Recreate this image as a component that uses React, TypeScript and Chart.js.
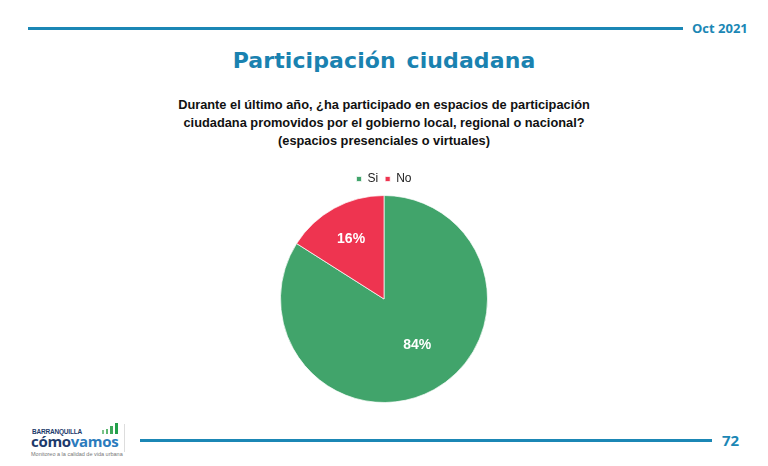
import React, { useEffect, useRef } from "react";
import { Chart, registerables } from "chart.js";

Chart.register(...registerables);

const categories = ["Si", "No"];
const values = [84, 16];
const valueLabels = ["84%", "16%"];
const sliceColors = ["#41a46b", "#ee3450"];
const labelRadius = [0.55, 0.66];

const BLUE = "#1b87b5";

const pctLabels = {
  id: "pctLabels",
  afterDatasetsDraw(chart: any) {
    const ctx = chart.ctx;
    const meta = chart.getDatasetMeta(0);
    ctx.save();
    ctx.fillStyle = "#ffffff";
    ctx.font = "bold 14px 'Liberation Sans', Arial, sans-serif";
    ctx.textAlign = "center";
    ctx.textBaseline = "middle";
    meta.data.forEach((arc: any, i: number) => {
      const { x, y, startAngle, endAngle, outerRadius } = arc.getProps(
        ["x", "y", "startAngle", "endAngle", "outerRadius"],
        true
      );
      const mid = (startAngle + endAngle) / 2 - (i === 0 ? 0.12 : 0);
      const r = outerRadius * labelRadius[i];
      ctx.fillText(valueLabels[i], x + Math.cos(mid) * r, y + Math.sin(mid) * r);
    });
    ctx.restore();
  },
};

export default function App() {
  const ref = useRef<HTMLCanvasElement>(null);
  useEffect(() => {
    document.body.style.margin = "0";
    const chart = new Chart(ref.current!, {
      type: "pie",
      data: {
        labels: categories,
        datasets: [
          {
            data: values,
            backgroundColor: sliceColors,
            borderColor: "rgba(255,255,255,0.7)",
            borderWidth: 1,
          },
        ],
      },
      options: {
        animation: false,
        responsive: false,
        maintainAspectRatio: false,
        layout: { padding: 0 },
        plugins: {
          tooltip: { enabled: false },
          legend: {
            display: true,
            position: "top",
            labels: {
              boxWidth: 5,
              boxHeight: 5,
              padding: 7,
              color: "#222",
              font: { family: "'Liberation Sans', Arial, sans-serif", size: 12 },
            },
          },
        },
      },
      plugins: [pctLabels],
    });
    return () => chart.destroy();
  }, []);

  return (
    <div
      style={{
        position: "fixed",
        left: 0,
        top: 0,
        width: 768,
        height: 466,
        background: "#fff",
        overflow: "hidden",
        fontFamily: "'Liberation Sans', Arial, sans-serif",
      }}
    >
      <div style={{ position: "absolute", left: 28, top: 27, width: 655, height: 3, background: BLUE }} />
      <div
        style={{
          position: "absolute",
          left: 692,
          top: 19,
          fontSize: 13,
          fontWeight: "bold",
          color: BLUE,
          fontFamily: "'Open Sans', sans-serif",
        }}
      >
        Oct 2021
      </div>
      <div
        style={{
          position: "absolute",
          left: 0,
          width: 768,
          top: 48,
          textAlign: "center",
          fontSize: 22,
          fontWeight: "bold",
          color: "#1a82b0",
          letterSpacing: 0.1,
          wordSpacing: 3,
          fontFamily: "'DejaVu Sans', sans-serif",
        }}
      >
        Participación ciudadana
      </div>
      <div
        style={{
          position: "absolute",
          left: 0,
          width: 768,
          top: 96,
          textAlign: "center",
          fontSize: 12.8,
          lineHeight: "18px",
          fontWeight: "bold",
          color: "#111",
        }}
      >
        Durante el último año, ¿ha participado en espacios de participación
        <br />
        ciudadana promovidos por el gobierno local, regional o nacional?
        <br />
        (espacios presenciales o virtuales)
      </div>
      <canvas
        ref={ref}
        width={768}
        height={237}
        style={{ position: "absolute", left: 0, top: 166, width: 768, height: 237 }}
      />
      {/* footer */}
      <div style={{ position: "absolute", left: 140, top: 439, width: 572, height: 3, background: BLUE }} />
      <div
        style={{
          position: "absolute",
          left: 722,
          top: 430,
          fontSize: 15,
          fontWeight: "bold",
          color: BLUE,
          fontFamily: "'Open Sans', sans-serif",
        }}
      >
        72
      </div>
      <div style={{ position: "absolute", left: 32, top: 428, fontSize: 6.5, color: "#1d3a6b", fontWeight: "bold", letterSpacing: -0.2 }}>
        BARRANQUILLA
      </div>
      <div style={{ position: "absolute", left: 102, top: 423, display: "flex", alignItems: "flex-end", gap: 2, height: 11 }}>
        <div style={{ width: 2, height: 4, background: "#7cc48a" }} />
        <div style={{ width: 2, height: 5, background: "#5fb873" }} />
        <div style={{ width: 2.5, height: 8, background: "#3da85a" }} />
        <div style={{ width: 3, height: 11, background: "#22a04a" }} />
      </div>
      <div
        style={{
          position: "absolute",
          left: 31,
          top: 431,
          fontSize: 15,
          fontWeight: "bold",
          letterSpacing: -0.3,
          fontFamily: "'Open Sans', sans-serif",
        }}
      >
        <span style={{ color: "#1d3a6b" }}>cómo</span>
        <span style={{ color: "#2b7bbd" }}>vamos</span>
      </div>
      <div style={{ position: "absolute", left: 31, top: 451, fontSize: 5.5, color: "#777", whiteSpace: "nowrap" }}>
        Monitoreo a la calidad de vida urbana
      </div>
      <div style={{ position: "absolute", left: 124, top: 424, width: 1, height: 28, background: "#ddd" }} />
    </div>
  );
}
